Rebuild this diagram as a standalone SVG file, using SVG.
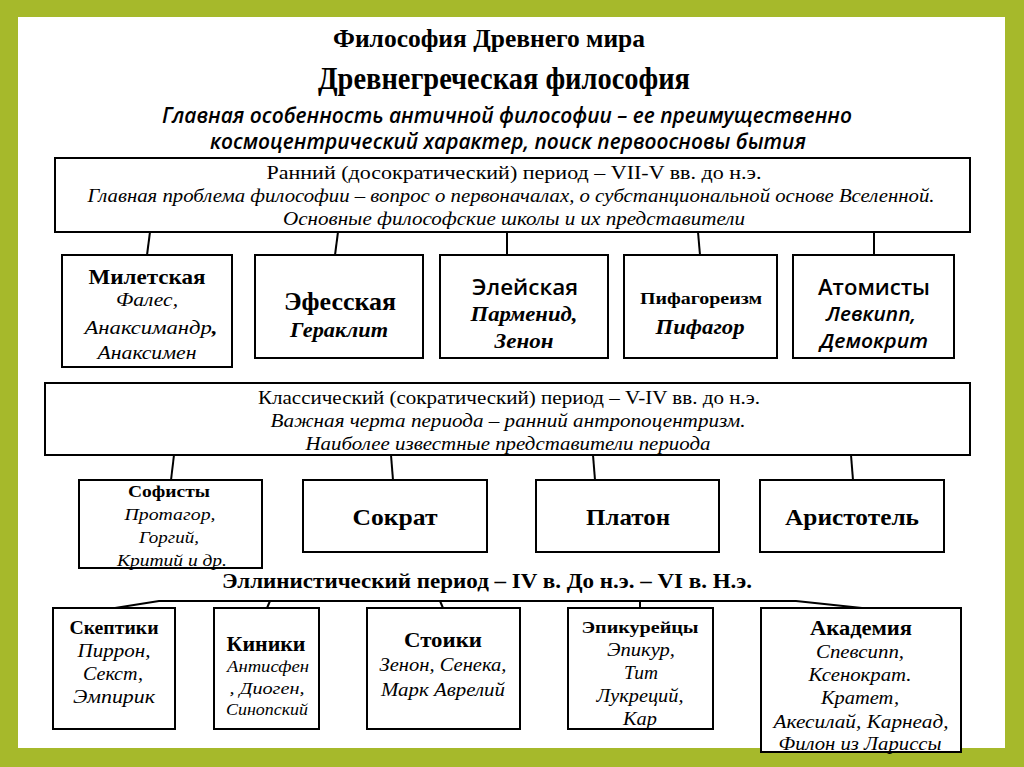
<svg xmlns="http://www.w3.org/2000/svg" width="1024" height="767" viewBox="0 0 1024 767">
<style>
text{font-family:"Liberation Serif","Times New Roman",serif;fill:#000;text-anchor:middle}
.b{font-weight:bold}
.i{font-style:italic}
.bi{font-weight:bold;font-style:italic}
.sans{font-family:"Open Sans","Liberation Sans",sans-serif;font-weight:600}
.box{fill:#fff;stroke:#000;stroke-width:2}
.con line,.con path{stroke:#000;stroke-width:2;fill:none}
</style>
<rect x="0" y="0" width="1024" height="767" fill="#a6b92b"/>
<rect x="18" y="17" width="987" height="731" fill="#fff"/>

<g id="titles">
<text x="489" y="47" class="b" font-size="26" textLength="312" lengthAdjust="spacingAndGlyphs">Философия Древнего мира</text>
<text x="504" y="89" class="b" font-size="31" textLength="372" lengthAdjust="spacingAndGlyphs">Древнегреческая философия</text>
<text x="507" y="123" class="sans i" font-size="21" textLength="690" lengthAdjust="spacingAndGlyphs">Главная особенность античной философии – ее преимущественно</text>
<text x="508" y="149" class="sans i" font-size="21" textLength="596" lengthAdjust="spacingAndGlyphs">космоцентрический характер, поиск первоосновы бытия</text>
</g>

<g class="con" id="connectors">
<line x1="150" y1="232" x2="147" y2="255"/>
<line x1="338" y1="232" x2="335" y2="255"/>
<line x1="507" y1="232" x2="507" y2="255"/>
<line x1="698" y1="232" x2="700" y2="255"/>
<line x1="874" y1="232" x2="874" y2="255"/>
<line x1="174" y1="455" x2="171" y2="480"/>
<line x1="391" y1="455" x2="393" y2="480"/>
<line x1="593" y1="455" x2="595" y2="480"/>
<line x1="851" y1="455" x2="853" y2="480"/>
<path d="M115,608 L159,601 L796,601 L862,608"/>
<line x1="270" y1="601" x2="267" y2="608"/>
<line x1="440" y1="601" x2="443" y2="608"/>
<line x1="640" y1="601" x2="640" y2="608"/>
</g>

<g id="early">
<rect class="box" x="55" y="158" width="915" height="74" stroke-width="2.5"/>
<text x="514" y="179" font-size="18" textLength="495" lengthAdjust="spacingAndGlyphs">Ранний (досократический) период – VII-V вв. до н.э.</text>
<text x="511" y="202" class="i" font-size="18" textLength="847" lengthAdjust="spacingAndGlyphs">Главная проблема философии – вопрос о первоначалах, о субстанциональной основе Вселенной.</text>
<text x="514" y="225" class="i" font-size="18" textLength="462" lengthAdjust="spacingAndGlyphs">Основные философские школы и их представители</text>
</g>

<g id="miletus">
<rect class="box" x="62" y="255" width="170" height="112"/>
<text x="147" y="284" class="b" font-size="21" textLength="117" lengthAdjust="spacingAndGlyphs">Милетская</text>
<text x="147" y="306" class="i" font-size="18" textLength="62" lengthAdjust="spacingAndGlyphs">Фалес,</text>
<text x="151" y="334" class="i" font-size="18" textLength="133" lengthAdjust="spacingAndGlyphs">Анаксимандр<tspan font-weight="bold">,</tspan></text>
<text x="147" y="359" class="i" font-size="18" textLength="99" lengthAdjust="spacingAndGlyphs">Анаксимен</text>
</g>
<g id="ephesus">
<rect class="box" x="255" y="255" width="168" height="103"/>
<text x="340" y="310" class="b" font-size="25" textLength="112" lengthAdjust="spacingAndGlyphs">Эфесская</text>
<text x="339" y="337" class="bi" font-size="21" textLength="98" lengthAdjust="spacingAndGlyphs">Гераклит</text>
</g>
<g id="elea">
<rect class="box" x="440" y="255" width="168" height="103"/>
<text x="525" y="295" class="sans" font-size="22" textLength="106" lengthAdjust="spacingAndGlyphs">Элейская</text>
<text x="524" y="321" class="bi" font-size="20" textLength="107" lengthAdjust="spacingAndGlyphs">Парменид,</text>
<text x="524" y="348" class="bi" font-size="20" textLength="59" lengthAdjust="spacingAndGlyphs">Зенон</text>
</g>
<g id="pythagoras">
<rect class="box" x="624" y="255" width="153" height="103"/>
<text x="701" y="304" class="b" font-size="17" textLength="122" lengthAdjust="spacingAndGlyphs">Пифагореизм</text>
<text x="700" y="334" class="bi" font-size="22" textLength="89" lengthAdjust="spacingAndGlyphs">Пифагор</text>
</g>
<g id="atomists">
<rect class="box" x="793" y="255" width="161" height="103"/>
<text x="874" y="295" class="sans" font-size="21" textLength="112" lengthAdjust="spacingAndGlyphs">Атомисты</text>
<text x="871" y="321" class="sans i" font-size="19" textLength="90" lengthAdjust="spacingAndGlyphs">Левкипп,</text>
<text x="874" y="348" class="sans i" font-size="19" textLength="108" lengthAdjust="spacingAndGlyphs">Демокрит</text>
</g>

<g id="classical">
<rect class="box" x="45" y="383" width="925" height="72" stroke-width="2.5"/>
<text x="509" y="404" font-size="18" textLength="502" lengthAdjust="spacingAndGlyphs">Классический (сократический) период – V-IV вв. до н.э.</text>
<text x="508" y="427" class="i" font-size="18" textLength="475" lengthAdjust="spacingAndGlyphs">Важная черта периода – ранний антропоцентризм.</text>
<text x="508" y="450" class="i" font-size="18" textLength="405" lengthAdjust="spacingAndGlyphs">Наиболее известные представители периода</text>
</g>

<g id="sophists">
<rect class="box" x="79" y="480" width="183" height="88"/>
<text x="169" y="497" class="b" font-size="17" textLength="82" lengthAdjust="spacingAndGlyphs">Софисты</text>
<text x="170" y="520" class="i" font-size="17" textLength="91" lengthAdjust="spacingAndGlyphs">Протагор,</text>
<text x="169" y="543" class="i" font-size="17" textLength="60" lengthAdjust="spacingAndGlyphs">Горгий,</text>
<text x="172" y="566" class="i" font-size="17" textLength="110" lengthAdjust="spacingAndGlyphs">Критий и др.</text>
</g>
<g id="socrates">
<rect class="box" x="303" y="480" width="184" height="72"/>
<text x="395" y="525" class="b" font-size="24" textLength="85" lengthAdjust="spacingAndGlyphs">Сократ</text>
</g>
<g id="plato">
<rect class="box" x="536" y="480" width="183" height="72"/>
<text x="628" y="525" class="b" font-size="24" textLength="84" lengthAdjust="spacingAndGlyphs">Платон</text>
</g>
<g id="aristotle">
<rect class="box" x="760" y="480" width="184" height="72"/>
<text x="852" y="525" class="b" font-size="24" textLength="134" lengthAdjust="spacingAndGlyphs">Аристотель</text>
</g>

<g id="hellenistic">
<text x="487" y="588" class="b" font-size="21" textLength="530" lengthAdjust="spacingAndGlyphs">Эллинистический период – IV в. До н.э. – VI в. Н.э.</text>
</g>

<g id="skeptics">
<rect class="box" x="53" y="608" width="122" height="121"/>
<text x="114" y="634" class="b" font-size="18" textLength="89" lengthAdjust="spacingAndGlyphs">Скептики</text>
<text x="114" y="657" class="i" font-size="18" textLength="73" lengthAdjust="spacingAndGlyphs">Пиррон,</text>
<text x="113" y="680" class="i" font-size="18" textLength="60" lengthAdjust="spacingAndGlyphs">Секст,</text>
<text x="114" y="703" class="i" font-size="18" textLength="82" lengthAdjust="spacingAndGlyphs">Эмпирик</text>
</g>
<g id="cynics">
<rect class="box" x="214" y="608" width="105" height="121"/>
<text x="266" y="651" class="b" font-size="21" textLength="79" lengthAdjust="spacingAndGlyphs">Киники</text>
<text x="268" y="672" class="i" font-size="16" textLength="82" lengthAdjust="spacingAndGlyphs">Антисфен</text>
<text x="267" y="694" class="i" font-size="16" textLength="75" lengthAdjust="spacingAndGlyphs">, Диоген,</text>
<text x="267" y="715" class="i" font-size="16" textLength="82" lengthAdjust="spacingAndGlyphs">Синопский</text>
</g>
<g id="stoics">
<rect class="box" x="367" y="608" width="153" height="121"/>
<text x="443" y="647" class="b" font-size="22" textLength="78" lengthAdjust="spacingAndGlyphs">Стоики</text>
<text x="443" y="671" class="i" font-size="18" textLength="127" lengthAdjust="spacingAndGlyphs">Зенон, Сенека,</text>
<text x="443" y="696" class="i" font-size="18" textLength="124" lengthAdjust="spacingAndGlyphs">Марк Аврелий</text>
</g>
<g id="epicureans">
<rect class="box" x="568" y="608" width="145" height="121"/>
<text x="640" y="633" class="b" font-size="17" textLength="117" lengthAdjust="spacingAndGlyphs">Эпикурейцы</text>
<text x="641" y="656" class="i" font-size="18" textLength="68" lengthAdjust="spacingAndGlyphs">Эпикур,</text>
<text x="641" y="679" class="i" font-size="18" textLength="34" lengthAdjust="spacingAndGlyphs">Тит</text>
<text x="640" y="702" class="i" font-size="18" textLength="87" lengthAdjust="spacingAndGlyphs">Лукреций,</text>
<text x="640" y="725" class="i" font-size="18" textLength="34" lengthAdjust="spacingAndGlyphs">Кар</text>
</g>
<g id="academy">
<rect class="box" x="761" y="608" width="200" height="144"/>
<text x="861" y="635" class="b" font-size="20" textLength="102" lengthAdjust="spacingAndGlyphs">Академия</text>
<text x="860" y="658" class="i" font-size="18" textLength="88" lengthAdjust="spacingAndGlyphs">Спевсипп,</text>
<text x="860" y="681" class="i" font-size="18" textLength="103" lengthAdjust="spacingAndGlyphs">Ксенократ.</text>
<text x="860" y="704" class="i" font-size="18" textLength="78" lengthAdjust="spacingAndGlyphs">Кратет,</text>
<text x="861" y="728" class="i" font-size="18" textLength="175" lengthAdjust="spacingAndGlyphs">Акесилай, Карнеад,</text>
<text x="860" y="750" class="i" font-size="18" textLength="163" lengthAdjust="spacingAndGlyphs">Филон из Лариссы</text>
</g>
</svg>
